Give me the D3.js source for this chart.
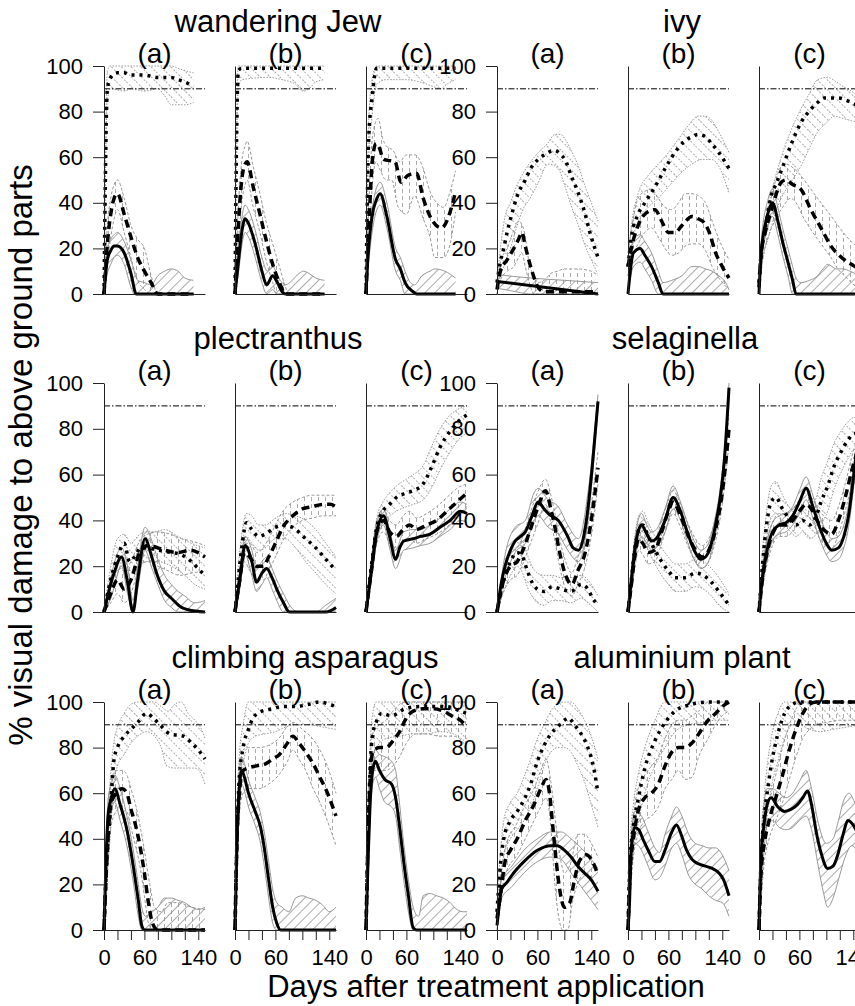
<!DOCTYPE html>
<html>
<head>
<meta charset="utf-8">
<script src="https://cdn.jsdelivr.net/npm/d3@7"></script>
<style>
  body { margin: 0; background: #fff; }
  text { font-family: "Liberation Sans", Arial, sans-serif; }
</style>
</head>
<body>
<div id="chart"></div>
<script>
// each series: mean line, lower and upper band as [day, % damage] pairs

// ---- wandering Jew ----
const wanderingA = {
  solid: {
    mean: [[0,0],[5,15],[10,19],[15,21],[20,21],[30,18],[40,9],[48,0],[133,0]],
    lo:   [[0,0],[5,9],[10,13],[15,16],[20,17],[30,13],[40,3],[45,0],[133,0]],
    hi:   [[0,0],[5,20],[10,24],[15,26],[20,27],[30,23],[40,15],[50,6],[60,5],[70,4],[80,8],[90,10],[100,11],[110,10],[120,7],[133,6]]
  },
  dashed: {
    mean: [[0,0],[5,22],[10,35],[15,42],[20,44],[30,35],[40,25],[50,16],[60,10],[70,5],[80,0],[133,0]],
    lo:   [[0,0],[5,14],[10,25],[15,33],[20,37],[30,27],[40,16],[50,6],[60,2],[70,0],[133,0]],
    hi:   [[0,0],[5,30],[10,42],[15,48],[20,50],[30,42],[40,30],[50,24],[60,20],[70,8],[80,0],[133,0]]
  },
  dotted: {
    mean: [[0,0],[5,90],[10,95],[20,97],[30,97],[40,96],[60,96],[80,95],[100,95],[110,94],[120,93],[133,91]],
    lo:   [[0,0],[5,85],[10,90],[30,89],[40,90],[60,89],[80,90],[90,87],[100,83],[120,83],[133,84]],
    hi:   [[0,0],[5,98],[10,100],[100,100],[110,99],[120,98],[133,97]]
  }
};
const wanderingB = {
  solid: {
    mean: [[0,0],[5,14],[10,27],[15,33],[20,31],[30,22],[40,10],[47,4],[56,8],[63,5],[70,1],[75,0],[133,0]],
    lo:   [[0,0],[5,9],[10,21],[15,27],[20,25],[30,16],[40,5],[47,0],[56,2],[62,0],[133,0]],
    hi:   [[0,0],[5,19],[10,33],[15,39],[20,37],[30,28],[40,16],[48,10],[56,12],[65,7],[75,4],[85,6],[95,9],[102,10],[110,9],[120,7],[133,6]]
  },
  dashed: {
    mean: [[0,0],[5,30],[10,50],[15,57],[18,58],[27,47],[37,35],[46,24],[56,13],[66,5],[75,0],[133,0]],
    lo:   [[0,0],[5,22],[10,40],[15,48],[18,50],[27,38],[37,27],[46,15],[56,5],[62,0],[133,0]],
    hi:   [[0,0],[5,38],[10,58],[15,65],[18,67],[27,56],[37,44],[46,32],[56,22],[66,12],[75,3],[80,0],[133,0]]
  },
  dotted: {
    mean: [[0,0],[2,60],[5,98],[10,99],[133,99]],
    lo:   [[0,0],[2,50],[5,90],[10,94],[50,95],[70,94],[90,92],[100,89],[110,90],[120,93],[133,94]],
    hi:   [[0,0],[2,70],[5,100],[133,100]]
  }
};
const wanderingC = {
  solid: {
    mean: [[0,0],[2,12],[9,34],[15,41],[21,44],[31,34],[44,15],[51,11],[58,5],[70,1],[75,0],[133,0]],
    lo:   [[0,0],[5,17],[10,29],[15,36],[21,39],[31,29],[44,10],[51,6],[58,0],[133,0]],
    hi:   [[0,0],[5,27],[10,39],[15,46],[21,49],[31,40],[44,20],[51,16],[58,10],[66,5],[72,4],[83,8],[95,10],[102,11],[117,10],[133,7]]
  },
  dashed: {
    mean: [[0,0],[5,35],[10,60],[15,66],[20,64],[26,59],[43,58],[52,49],[62,52],[75,53],[85,42],[97,33],[112,29],[127,38],[133,45]],
    lo:   [[0,0],[5,25],[10,50],[15,58],[20,55],[30,50],[38,50],[48,38],[60,35],[72,43],[85,33],[95,25],[102,16],[115,16],[125,22],[133,36]],
    hi:   [[0,0],[5,45],[10,70],[18,77],[25,68],[30,65],[40,63],[50,58],[60,61],[73,61],[85,55],[95,45],[105,40],[115,38],[125,45],[133,54]]
  },
  dotted: {
    mean: [[0,0],[4,68],[9,86],[16,99],[133,99]],
    lo:   [[0,0],[4,60],[9,78],[16,92],[30,94],[60,94],[80,93],[100,91],[110,90],[120,92],[133,94]],
    hi:   [[0,0],[4,76],[9,94],[16,100],[133,100]]
  }
};

// ---- ivy ----
const ivyA = {
  solid: {
    mean: [[0,5.5],[150,0]],
    lo:   [[0,2.5],[20,1.5],[50,0],[150,0]],
    hi:   [[0,8.5],[50,7],[100,6],[150,5]]
  },
  dashed: {
    mean: [[0,2],[5,10],[15,15],[25,20],[32,24],[37,27],[42,21],[51,11],[61,3],[70,1],[150,1]],
    lo:   [[0,0],[5,6],[15,10],[25,12],[32,16],[37,18],[42,12],[50,3],[55,0],[150,0]],
    hi:   [[0,4],[5,14],[15,20],[25,28],[32,32],[40,28],[47,15],[54,8],[60,5],[70,6],[80,9],[90,10],[100,11],[120,11],[140,10],[150,8]]
  },
  dotted: {
    mean: [[0,5],[5,14],[10,20],[15,27],[22,35],[30,43],[42,50],[50,55],[61,59],[70,61],[86,63],[95,61],[101,59],[110,52],[121,44],[130,36],[138,27],[150,16]],
    lo:   [[0,0],[5,8],[10,12],[20,20],[30,30],[40,38],[47,41],[60,48],[76,57],[91,55],[100,48],[111,38],[121,30],[131,21],[140,15],[149,9]],
    hi:   [[0,5],[5,20],[12,34],[20,40],[30,48],[37,52],[50,58],[61,62],[75,66],[86,70],[95,70],[101,68],[110,63],[121,56],[130,48],[140,40],[150,32]]
  }
};
const ivyB = {
  solid: {
    mean: [[0,0],[8,18],[18,20],[25,17],[35,12],[45,5],[52,0],[150,0]],
    lo:   [[0,0],[8,12],[18,14],[25,11],[35,6],[45,0],[150,0]],
    hi:   [[0,0],[8,24],[18,26],[25,23],[35,18],[45,10],[52,5],[65,6],[80,8],[95,12],[105,12],[115,11],[125,10],[135,8],[145,5],[150,2]]
  },
  dashed: {
    mean: [[0,12],[5,20],[15,30],[25,35],[40,37],[50,32],[60,27],[70,27],[80,30],[95,34],[104,33],[114,31],[122,26],[129,19],[140,12],[150,7]],
    lo:   [[0,8],[5,15],[15,22],[25,27],[35,29],[45,25],[55,20],[65,17],[75,18],[85,21],[95,22],[105,22],[115,19],[125,12],[135,7],[150,2]],
    hi:   [[0,18],[5,28],[15,42],[25,45],[35,46],[45,42],[55,38],[65,37],[75,40],[85,44],[95,44],[105,43],[115,40],[125,32],[135,24],[150,15]]
  },
  dotted: {
    mean: [[0,12],[5,25],[15,35],[25,40],[40,47],[55,55],[65,60],[84,67],[95,69],[104,70],[115,69],[124,66],[135,62],[146,57],[150,55]],
    lo:   [[0,8],[5,20],[15,32],[30,38],[45,42],[60,47],[75,52],[95,57],[110,59],[124,59],[135,56],[150,44]],
    hi:   [[0,15],[5,30],[15,44],[30,52],[45,57],[60,62],[75,68],[90,74],[104,78],[115,78],[125,76],[135,71],[150,62]]
  }
};
const ivyC = {
  solid: {
    mean: [[0,0],[3,17],[13,35],[20,40],[28,32],[35,23],[43,14],[50,6],[55,0],[150,0]],
    lo:   [[0,0],[3,12],[13,29],[20,34],[28,26],[35,17],[43,8],[50,0],[150,0]],
    hi:   [[0,0],[3,22],[13,41],[20,46],[28,38],[35,29],[43,20],[50,12],[55,7],[62,5],[75,6],[87,8],[95,11],[102,13],[115,11],[125,11],[135,10],[150,8]]
  },
  dashed: {
    mean: [[0,3],[3,17],[10,28],[20,38],[28,46],[33,49],[40,50],[50,48],[62,46],[77,37],[92,29],[107,21],[127,15],[137,13],[150,11]],
    lo:   [[0,0],[5,14],[15,26],[25,33],[35,38],[47,42],[55,40],[67,33],[80,27],[97,20],[107,16],[117,11],[127,8],[137,5],[150,2]],
    hi:   [[0,5],[5,22],[15,38],[25,50],[33,56],[40,57],[52,55],[62,52],[72,48],[82,44],[92,40],[105,35],[115,31],[125,27],[137,23],[150,20]]
  },
  dotted: {
    mean: [[0,5],[3,17],[10,30],[18,43],[25,48],[33,54],[47,65],[62,75],[77,81],[87,84],[97,86],[117,86],[137,84],[150,82]],
    lo:   [[0,2],[5,14],[15,26],[25,36],[33,42],[45,48],[62,56],[75,64],[87,71],[100,75],[112,78],[125,77],[137,76],[150,75]],
    hi:   [[0,8],[5,22],[15,40],[25,52],[33,60],[45,70],[62,81],[75,88],[87,94],[102,95],[115,93],[125,91],[137,89],[150,86]]
  }
};

// ---- plectranthus ----
const plectA = {
  solid: {
    mean: [[0,0],[8,10],[15,17],[26,24],[35,13],[43,0],[50,14],[61,32],[70,25],[78,17],[90,9],[100,6],[115,2],[125,1],[150,0]],
    lo:   [[0,0],[10,6],[26,20],[35,8],[43,0],[50,10],[61,27],[70,20],[80,12],[90,5],[100,2],[110,0],[150,0]],
    hi:   [[0,0],[10,15],[26,28],[35,20],[43,5],[50,20],[61,37],[70,32],[80,23],[90,16],[100,12],[110,9],[120,7],[135,4],[150,5]]
  },
  dashed: {
    mean: [[0,0],[10,8],[20,14],[30,10],[40,14],[53,26],[65,29],[80,28],[90,27],[110,26],[128,27],[150,24]],
    lo:   [[0,0],[10,4],[20,8],[30,4],[40,8],[53,20],[65,22],[80,20],[95,18],[113,16],[130,17],[150,18]],
    hi:   [[0,0],[10,12],[20,20],[30,18],[40,22],[53,31],[65,34],[80,35],[98,34],[115,32],[130,31],[150,29]]
  },
  dotted: {
    mean: [[0,0],[9,13],[20,24],[30,30],[38,22],[45,24],[55,28],[63,28],[80,27],[100,26],[115,25],[130,22],[143,18],[150,16]],
    lo:   [[0,0],[10,6],[20,16],[30,24],[40,14],[50,18],[60,22],[80,22],[100,20],[120,16],[135,12],[150,10]],
    hi:   [[0,0],[10,20],[20,32],[30,34],[40,30],[50,33],[60,35],[75,35],[90,36],[110,33],[130,30],[150,28]]
  }
};
const plectB = {
  solid: {
    mean: [[0,0],[7,14],[15,29],[25,22],[32,13],[40,17],[47,19],[55,15],[62,10],[72,4],[81,0],[135,0],[150,2]],
    lo:   [[0,0],[7,10],[15,25],[25,16],[32,9],[40,12],[47,15],[55,10],[62,5],[72,0],[150,0]],
    hi:   [[0,0],[7,18],[15,33],[25,27],[32,19],[40,22],[47,24],[55,19],[62,14],[72,8],[81,3],[95,0],[120,0],[135,3],[150,6]]
  },
  dashed: {
    mean: [[0,0],[7,14],[14,26],[22,24],[32,20],[42,20],[50,24],[60,30],[71,37],[86,42],[100,45],[115,46],[130,47],[141,47],[150,46]],
    lo:   [[0,0],[7,10],[14,22],[22,18],[32,14],[42,14],[50,18],[60,24],[71,31],[86,37],[100,40],[115,41],[130,42],[150,42]],
    hi:   [[0,0],[7,18],[14,30],[22,30],[32,26],[42,28],[50,32],[60,38],[71,44],[86,48],[100,50],[115,51],[130,51],[150,51]]
  },
  dotted: {
    mean: [[0,0],[5,15],[10,28],[17,39],[25,36],[35,33],[45,34],[60,37],[75,38],[90,36],[105,32],[120,28],[135,23],[150,18]],
    lo:   [[0,0],[5,10],[10,22],[17,33],[25,30],[35,27],[45,28],[60,32],[75,32],[90,28],[105,22],[120,17],[135,12],[150,8]],
    hi:   [[0,0],[5,20],[10,34],[17,43],[25,42],[35,38],[45,38],[60,41],[75,43],[90,42],[105,40],[120,36],[135,30],[150,24]]
  }
};
const plectC = {
  solid: {
    mean: [[0,0],[8,18],[16,35],[26,42],[35,33],[44,23],[50,28],[56,31],[70,32],[81,33],[95,34],[110,37],[125,40],[140,44],[150,43]],
    lo:   [[0,0],[8,14],[16,31],[26,38],[35,28],[44,19],[56,27],[70,28],[81,29],[95,30],[110,33],[125,36],[140,40],[150,39]],
    hi:   [[0,0],[8,22],[16,39],[26,45],[35,36],[44,27],[56,35],[70,36],[81,36],[95,38],[110,41],[125,45],[140,48],[150,47]]
  },
  dashed: {
    mean: [[0,0],[8,18],[16,35],[26,40],[35,35],[45,33],[55,36],[65,38],[75,36],[90,38],[105,40],[120,44],[135,48],[150,52]],
    lo:   [[0,0],[8,14],[16,30],[26,35],[35,30],[45,28],[55,30],[65,32],[75,30],[90,32],[105,34],[120,37],[135,42],[150,46]],
    hi:   [[0,0],[8,22],[16,40],[26,45],[35,40],[45,38],[55,42],[65,44],[75,41],[90,43],[105,46],[120,50],[135,54],[150,56]]
  },
  dotted: {
    mean: [[0,0],[8,20],[16,37],[25,44],[35,47],[45,50],[60,52],[70,53],[85,56],[97,63],[110,72],[125,79],[140,84],[150,86]],
    lo:   [[0,0],[8,16],[16,33],[25,40],[35,42],[45,44],[60,46],[70,47],[85,49],[97,54],[110,62],[125,70],[140,76],[150,78]],
    hi:   [[0,0],[8,24],[16,41],[25,48],[35,52],[45,55],[60,58],[70,60],[85,64],[97,72],[110,80],[125,86],[140,89],[150,90]]
  }
};

// ---- selaginella ----
const selagA = {
  solid: {
    mean: [[0,0],[6,12],[12,20],[20,27],[27,31],[35,33],[42,35],[52,42],[61,48],[70,45],[76,43],[91,40],[105,33],[113,28],[121,27],[128,32],[135,45],[141,62],[150,92]],
    lo:   [[0,0],[12,15],[27,26],[42,30],[61,42],[76,37],[91,34],[105,27],[121,22],[135,40],[150,89]],
    hi:   [[0,0],[12,25],[27,37],[42,40],[55,52],[61,54],[76,49],[91,46],[105,38],[121,32],[135,52],[150,95]]
  },
  dashed: {
    mean: [[0,0],[10,14],[20,20],[30,22],[37,26],[46,33],[60,45],[72,53],[80,45],[86,37],[93,26],[102,16],[111,12],[120,18],[131,26],[140,40],[150,63]],
    lo:   [[0,0],[10,9],[20,14],[30,16],[37,20],[46,27],[60,38],[72,47],[80,39],[86,31],[93,20],[102,10],[111,7],[120,12],[131,20],[140,33],[150,56]],
    hi:   [[0,0],[10,19],[20,26],[30,28],[37,32],[46,40],[60,52],[72,58],[80,51],[86,43],[93,32],[102,22],[111,17],[120,24],[131,32],[140,47],[150,70]]
  },
  dotted: {
    mean: [[0,0],[10,14],[20,22],[30,26],[38,24],[45,18],[52,13],[60,10],[70,9],[82,11],[95,10],[110,9],[125,12],[135,10],[142,6],[150,3]],
    lo:   [[0,0],[10,9],[20,16],[30,20],[38,17],[45,11],[52,7],[60,4],[70,3],[82,5],[95,5],[110,4],[125,6],[135,4],[150,0]],
    hi:   [[0,0],[10,19],[20,28],[30,32],[38,31],[45,25],[52,20],[60,17],[70,16],[82,16],[95,15],[110,15],[125,16],[135,14],[150,7]]
  }
};
const selagB = {
  solid: {
    mean: [[0,0],[5,14],[10,27],[16,36],[20,38],[28,34],[35,31],[42,32],[55,40],[67,50],[78,44],[88,35],[100,26],[108,23],[115,24],[122,28],[130,38],[137,50],[143,66],[150,98]],
    lo:   [[0,0],[5,10],[10,23],[16,31],[20,33],[28,30],[35,27],[42,28],[55,35],[67,45],[78,40],[88,31],[100,22],[108,19],[115,20],[122,24],[130,34],[137,46],[143,62],[150,94]],
    hi:   [[0,0],[5,18],[10,31],[16,41],[20,43],[28,38],[35,35],[42,36],[55,45],[67,55],[78,48],[88,39],[100,30],[108,27],[115,28],[122,32],[130,42],[137,54],[143,70],[150,100]]
  },
  dashed: {
    mean: [[0,0],[5,12],[10,24],[16,32],[22,30],[30,26],[40,27],[50,35],[60,44],[67,48],[78,42],[90,33],[100,27],[110,24],[120,27],[130,36],[140,52],[150,80]],
    lo:   [[0,0],[5,8],[10,19],[16,27],[22,25],[30,21],[40,22],[50,30],[60,39],[67,43],[78,37],[90,28],[100,22],[110,19],[120,22],[130,31],[140,47],[150,74]],
    hi:   [[0,0],[5,16],[10,29],[16,37],[22,35],[30,31],[40,32],[50,40],[60,49],[67,53],[78,47],[90,38],[100,32],[110,29],[120,32],[130,41],[140,57],[150,86]]
  },
  dotted: {
    mean: [[0,0],[5,14],[10,27],[16,36],[22,38],[30,33],[40,27],[50,22],[60,18],[70,15],[85,15],[100,17],[112,16],[124,13],[135,9],[150,3]],
    lo:   [[0,0],[5,9],[10,21],[16,30],[22,32],[30,27],[40,21],[50,16],[60,12],[70,9],[85,9],[100,11],[112,10],[124,7],[135,3],[150,0]],
    hi:   [[0,0],[5,19],[10,33],[16,42],[22,44],[30,39],[40,33],[50,28],[60,24],[70,21],[85,21],[100,23],[112,22],[124,19],[135,15],[150,8]]
  }
};
const selagC = {
  solid: {
    mean: [[0,0],[5,15],[12,27],[20,35],[30,38],[40,39],[50,42],[60,48],[70,54],[80,46],[90,37],[100,30],[108,27],[118,28],[126,33],[133,42],[140,58],[150,82]],
    lo:   [[0,0],[5,11],[12,23],[20,31],[30,34],[40,35],[50,38],[60,43],[70,49],[80,41],[90,32],[100,25],[108,22],[118,23],[126,28],[133,37],[140,53],[150,78]],
    hi:   [[0,0],[5,19],[12,31],[20,39],[30,42],[40,43],[50,46],[60,53],[70,59],[80,51],[90,42],[100,35],[108,32],[118,33],[126,38],[133,47],[140,63],[150,86]]
  },
  dashed: {
    mean: [[0,0],[5,14],[12,26],[20,34],[30,38],[40,38],[50,40],[60,44],[70,47],[80,44],[90,38],[100,35],[108,34],[118,40],[128,50],[138,62],[150,74]],
    lo:   [[0,0],[5,10],[12,21],[20,29],[30,33],[40,33],[50,35],[60,39],[70,42],[80,39],[90,32],[100,29],[108,28],[118,34],[128,44],[138,56],[150,68]],
    hi:   [[0,0],[5,18],[12,31],[20,39],[30,43],[40,43],[50,45],[60,49],[70,52],[80,49],[90,44],[100,41],[108,40],[118,46],[128,56],[138,68],[150,80]]
  },
  dotted: {
    mean: [[0,0],[5,20],[10,35],[18,48],[25,50],[35,45],[47,40],[55,38],[65,40],[75,38],[85,42],[92,48],[102,55],[112,64],[122,70],[132,75],[142,78],[150,78]],
    lo:   [[0,0],[5,15],[10,29],[18,41],[25,43],[35,39],[47,35],[55,33],[65,35],[75,32],[85,34],[92,38],[102,44],[112,54],[122,61],[132,67],[142,71],[150,71]],
    hi:   [[0,0],[5,25],[10,41],[18,55],[25,57],[35,51],[47,45],[55,43],[65,45],[75,44],[85,50],[92,58],[102,66],[112,74],[122,79],[132,83],[142,85],[150,85]]
  }
};

// ---- climbing asparagus ----
const asparA = {
  solid: {
    mean: [[0,0],[3,30],[6,50],[10,57],[16,62],[24,55],[34,44],[44,27],[51,13],[56,2],[60,0],[150,0]],
    lo:   [[0,0],[3,24],[6,44],[10,51],[16,56],[24,48],[34,37],[44,20],[51,6],[56,0],[150,0]],
    hi:   [[0,0],[3,36],[6,57],[10,63],[16,68],[24,62],[34,50],[44,34],[51,20],[56,10],[62,6],[70,8],[80,10],[90,14],[100,14],[110,13],[120,12],[130,10],[140,9],[150,10]]
  },
  dashed: {
    mean: [[0,0],[5,35],[10,55],[18,60],[27,62],[34,60],[40,53],[46,47],[54,36],[60,25],[66,12],[72,3],[80,0],[150,0]],
    lo:   [[0,0],[5,25],[10,45],[18,52],[27,54],[34,52],[40,45],[46,38],[54,27],[60,15],[66,3],[72,0],[150,0]],
    hi:   [[0,0],[5,45],[10,65],[18,70],[27,70],[34,68],[40,62],[46,56],[54,45],[60,35],[68,20],[75,10],[85,8],[95,12],[110,12],[130,10],[150,9]]
  },
  dotted: {
    mean: [[0,0],[4,30],[9,50],[15,75],[20,80],[30,85],[40,88],[50,91],[63,95],[73,93],[83,90],[98,86],[118,85],[130,82],[140,79],[150,75]],
    lo:   [[0,0],[4,20],[9,40],[15,65],[20,72],[30,77],[40,82],[50,85],[63,87],[75,85],[85,80],[93,72],[105,71],[120,71],[135,71],[145,68],[150,64]],
    hi:   [[0,0],[4,40],[9,65],[15,83],[20,89],[30,95],[40,99],[50,100],[63,100],[75,100],[85,98],[95,96],[105,99],[115,100],[125,95],[135,92],[145,88],[150,84]]
  }
};
const asparB = {
  solid: {
    mean: [[0,0],[3,40],[6,60],[10,70],[14,67],[20,60],[30,52],[38,45],[44,35],[50,22],[56,10],[62,3],[68,0],[150,0]],
    lo:   [[0,0],[3,33],[6,53],[10,64],[14,61],[20,54],[30,46],[38,38],[44,27],[50,14],[56,3],[62,0],[150,0]],
    hi:   [[0,0],[3,47],[6,67],[10,76],[14,73],[20,66],[30,58],[38,51],[44,42],[50,30],[56,18],[62,12],[70,10],[80,8],[90,14],[100,15],[110,14],[120,13],[130,11],[140,8],[150,10]]
  },
  dashed: {
    mean: [[0,0],[3,40],[7,62],[12,70],[19,71],[32,72],[46,73],[56,75],[66,77],[78,82],[86,85],[95,82],[105,78],[116,73],[126,67],[136,61],[150,50]],
    lo:   [[0,0],[3,30],[7,52],[12,60],[20,62],[35,62],[50,64],[65,68],[78,74],[86,79],[95,75],[105,70],[116,62],[126,56],[137,48],[150,37]],
    hi:   [[0,0],[3,50],[7,72],[12,79],[20,80],[35,80],[50,81],[65,84],[80,90],[88,91],[100,88],[115,84],[126,79],[137,72],[150,60]]
  },
  dotted: {
    mean: [[0,0],[3,40],[6,65],[12,80],[20,88],[27,93],[40,96],[55,97],[71,98],[90,98],[110,99],[125,100],[140,99],[150,98]],
    lo:   [[0,0],[3,30],[6,55],[12,72],[20,82],[30,85],[45,86],[60,87],[75,89],[90,90],[110,90],[130,89],[150,88]],
    hi:   [[0,0],[3,50],[6,75],[12,90],[20,100],[150,100]]
  }
};
const asparC = {
  solid: {
    mean: [[0,0],[3,30],[6,55],[10,70],[14,74],[20,70],[28,66],[38,64],[44,58],[50,45],[56,30],[63,15],[70,1],[75,0],[150,0]],
    lo:   [[0,0],[3,24],[6,48],[10,64],[14,67],[20,62],[28,56],[38,54],[44,50],[50,36],[56,22],[63,8],[70,0],[150,0]],
    hi:   [[0,0],[3,36],[6,62],[10,76],[14,79],[20,77],[28,76],[38,74],[44,70],[50,55],[56,38],[63,22],[70,10],[78,6],[85,15],[95,16],[105,15],[115,14],[125,12],[135,9],[145,8],[150,8]]
  },
  dashed: {
    mean: [[0,0],[3,40],[6,65],[10,78],[20,80],[30,80],[40,83],[50,87],[60,93],[70,96],[85,97],[100,97],[115,96],[127,94],[140,92],[150,89]],
    lo:   [[0,0],[3,32],[6,57],[10,70],[20,70],[30,70],[40,72],[50,76],[60,82],[75,86],[90,86],[110,85],[130,85],[145,82],[150,76]],
    hi:   [[0,0],[3,48],[6,73],[10,86],[20,90],[30,92],[40,96],[50,99],[60,100],[150,100]]
  },
  dotted: {
    mean: [[0,0],[3,40],[6,70],[10,86],[15,91],[23,95],[38,94],[58,97],[80,98],[100,98],[120,98],[140,96],[150,95]],
    lo:   [[0,0],[3,30],[6,58],[10,75],[20,82],[30,84],[50,85],[70,86],[90,86],[110,87],[130,86],[150,82]],
    hi:   [[0,0],[3,50],[6,80],[10,95],[15,100],[150,100]]
  }
};

// ---- aluminium plant ----
const alumA = {
  solid: {
    mean: [[0,2],[3,10],[7,18],[15,21],[22,24],[40,30],[60,35],[80,37],[90,37],[100,35],[110,32],[120,28],[130,25],[140,22],[150,17]],
    lo:   [[0,0],[7,14],[22,19],[40,25],[60,30],[80,32],[95,31],[110,25],[125,19],[140,13],[150,9]],
    hi:   [[0,6],[7,22],[22,28],[40,35],[60,40],[80,43],[95,43],[110,40],[125,36],[140,31],[150,27]]
  },
  dashed: {
    mean: [[0,5],[5,15],[12,30],[20,35],[30,40],[42,48],[55,55],[65,62],[73,66],[78,60],[83,45],[88,30],[93,18],[100,10],[108,12],[115,22],[122,30],[132,33],[142,30],[150,24]],
    lo:   [[0,2],[12,24],[30,33],[42,40],[55,48],[65,54],[73,58],[80,45],[86,20],[92,5],[98,0],[105,0],[112,12],[122,22],[132,25],[142,22],[150,16]],
    hi:   [[0,8],[12,36],[30,47],[42,55],[55,62],[65,70],[73,75],[80,65],[88,45],[95,30],[100,25],[110,30],[120,42],[130,42],[140,38],[150,32]]
  },
  dotted: {
    mean: [[0,8],[4,25],[10,40],[20,48],[30,52],[40,57],[50,64],[60,74],[70,81],[80,86],[90,89],[100,92],[106,93],[115,90],[125,86],[135,80],[143,72],[150,60]],
    lo:   [[0,4],[10,32],[20,40],[30,44],[40,48],[50,54],[60,62],[70,72],[80,78],[90,80],[100,80],[110,78],[120,72],[130,65],[140,55],[150,45]],
    hi:   [[0,12],[10,48],[20,56],[30,60],[40,67],[50,75],[60,84],[70,90],[80,96],[90,99],[100,100],[110,100],[120,97],[130,92],[140,85],[150,75]]
  }
};
const alumB = {
  solid: {
    mean: [[0,0],[2,10],[5,36],[10,45],[16,44],[22,40],[30,35],[40,30],[47,30],[55,35],[65,43],[72,46],[80,41],[87,35],[95,31],[105,29],[115,28],[125,27],[135,25],[142,22],[150,15]],
    lo:   [[0,0],[5,30],[10,38],[20,35],[30,28],[40,22],[47,23],[55,28],[65,36],[72,38],[80,33],[90,24],[100,20],[110,18],[120,15],[130,13],[140,12],[150,6]],
    hi:   [[0,0],[5,42],[10,52],[20,50],[30,43],[40,36],[47,34],[55,42],[65,50],[72,54],[80,50],[90,42],[100,38],[110,37],[120,36],[130,36],[140,33],[150,26]]
  },
  dashed: {
    mean: [[0,0],[3,25],[8,40],[15,52],[25,58],[35,60],[45,64],[55,72],[65,78],[75,80],[85,80],[95,82],[105,86],[119,92],[130,95],[140,98],[150,100]],
    lo:   [[0,0],[8,32],[15,42],[25,48],[35,50],[45,54],[55,62],[65,66],[75,70],[85,66],[95,67],[105,76],[119,84],[130,90],[140,94],[150,96]],
    hi:   [[0,0],[8,48],[15,62],[25,68],[35,72],[45,76],[55,84],[65,90],[75,92],[85,92],[95,94],[105,96],[120,100],[150,100]]
  },
  dotted: {
    mean: [[0,0],[3,30],[8,45],[15,57],[25,71],[40,83],[55,91],[70,96],[95,99],[120,100],[150,100]],
    lo:   [[0,0],[3,22],[8,35],[15,47],[25,60],[40,72],[55,80],[70,87],[90,90],[110,91],[130,92],[150,92]],
    hi:   [[0,0],[3,38],[8,55],[15,68],[25,80],[40,92],[55,100],[150,100]]
  }
};
const alumC = {
  solid: {
    mean: [[0,0],[3,32],[7,45],[12,55],[18,58],[28,54],[38,52],[48,53],[57,55],[65,58],[72,61],[78,55],[85,43],[92,34],[102,27],[110,28],[117,33],[125,42],[132,48],[140,46],[150,40]],
    lo:   [[0,0],[5,25],[12,46],[20,48],[30,45],[40,44],[50,45],[60,48],[70,50],[78,44],[88,28],[96,16],[102,10],[110,14],[118,22],[128,32],[138,37],[150,32]],
    hi:   [[0,0],[5,45],[12,62],[20,62],[30,60],[40,58],[50,60],[60,65],[70,70],[78,62],[88,47],[100,38],[110,40],[118,48],[126,57],[134,60],[142,56],[150,50]]
  },
  dashed: {
    mean: [[0,0],[3,25],[8,38],[15,48],[25,58],[35,68],[45,79],[55,88],[65,95],[75,99],[85,100],[150,100]],
    lo:   [[0,0],[8,30],[15,40],[25,48],[35,56],[45,66],[55,76],[65,84],[75,88],[85,90],[100,91],[120,92],[150,92]],
    hi:   [[0,0],[8,46],[15,56],[25,68],[35,80],[45,90],[55,97],[65,100],[150,100]]
  },
  dotted: {
    mean: [[0,0],[3,30],[8,50],[13,62],[18,72],[28,86],[38,95],[50,99],[60,100],[150,100]],
    lo:   [[0,0],[3,22],[8,40],[13,52],[18,62],[28,74],[38,84],[50,90],[60,90],[75,88],[90,87],[110,88],[130,89],[150,90]],
    hi:   [[0,0],[3,38],[8,60],[13,74],[18,84],[28,95],[38,100],[150,100]]
  }
};

const plantNames = ["wandering Jew", "ivy", "plectranthus", "selaginella", "climbing asparagus", "aluminium plant"];
const plantPanels = [
  [wanderingA, wanderingB, wanderingC],
  [ivyA, ivyB, ivyC],
  [plectA, plectB, plectC],
  [selagA, selagB, selagC],
  [asparA, asparB, asparC],
  [alumA, alumB, alumC]
];
const panelLabels = ["(a)", "(b)", "(c)"];
const yTicks = [0, 20, 40, 60, 80, 100];
const xTicks = [0, 20, 40, 60, 80, 100, 120, 140];
const xTickLabels = [0, 60, 140];
const threshold = 90;

// layout
const width = 855, height = 1006;
const panelW = 101, panelStep = 131;
const groupLeft = [104, 497];
const rows = [{y0: 294, y100: 66}, {y0: 612, y100: 383}, {y0: 930, y100: 702}];
const titleX = [278, 682, 278, 685, 305, 682];

const svg = d3.select("#chart").append("svg")
  .attr("width", width)
  .attr("height", height);

// hatch patterns for the confidence bands
const defs = svg.append("defs");
function hatch(id, angle, dash) {
  const p = defs.append("pattern")
    .attr("id", id)
    .attr("patternUnits", "userSpaceOnUse")
    .attr("width", 7).attr("height", 7)
    .attr("patternTransform", `rotate(${angle})`);
  p.append("line")
    .attr("x1", 3.5).attr("y1", 0).attr("x2", 3.5).attr("y2", 7)
    .attr("stroke", "#888")
    .attr("stroke-width", 0.7)
    .attr("stroke-dasharray", dash);
}
hatch("hatch-solid", 45, null);
hatch("hatch-dashed", 0, "4,3");
hatch("hatch-dotted", -45, "2,2");

const style = {
  solid:  {band: "url(#hatch-solid)",  edge: null,      line: null,  w: 3},
  dashed: {band: "url(#hatch-dashed)", edge: "3,2",     line: "8,5", w: 3.5},
  dotted: {band: "url(#hatch-dotted)", edge: "1.5,1.5", line: "3,5", w: 3.5}
};

plantPanels.forEach((panels, g) => {
  const row = rows[Math.floor(g / 2)];
  const left0 = groupLeft[g % 2];
  const isBottom = Math.floor(g / 2) === 2;

  const y = d3.scaleLinear().domain([0, 100]).range([row.y0, row.y100]);

  svg.append("text")
    .attr("x", titleX[g])
    .attr("y", row.y100 - 34)
    .attr("text-anchor", "middle")
    .attr("font-size", 31)
    .text(plantNames[g]);

  panels.forEach((pd, p) => {
    const left = left0 + p * panelStep;
    const x = d3.scaleLinear().domain([0, 150]).range([left, left + panelW]);
    const line = d3.line()
      .x(d => x(d[0]))
      .y(d => y(d[1]))
      .curve(d3.curveMonotoneX);

    const gp = svg.append("g");

    // bands
    ["dotted", "dashed", "solid"].forEach(k => {
      const s = pd[k];
      const back = line(s.lo.slice().reverse());
      gp.append("path")
        .attr("d", line(s.hi) + "L" + back.slice(1) + "Z")
        .attr("fill", style[k].band)
        .attr("stroke", "none");
      [s.lo, s.hi].forEach(b => {
        gp.append("path")
          .attr("d", line(b))
          .attr("fill", "none")
          .attr("stroke", "#8c8c8c")
          .attr("stroke-width", 0.9)
          .attr("stroke-dasharray", style[k].edge);
      });
    });

    // 90 % line
    gp.append("line")
      .attr("x1", x(0)).attr("x2", x(150))
      .attr("y1", y(threshold)).attr("y2", y(threshold))
      .attr("stroke", "#000")
      .attr("stroke-width", 1)
      .attr("stroke-dasharray", "6,2,1.5,2");

    // fitted means
    ["dotted", "dashed", "solid"].forEach(k => {
      gp.append("path")
        .attr("d", line(pd[k].mean))
        .attr("fill", "none")
        .attr("stroke", "#000")
        .attr("stroke-width", style[k].w)
        .attr("stroke-dasharray", style[k].line);
    });

    // axes
    const yAxis = p === 0
      ? d3.axisLeft(y).tickValues(yTicks).tickSize(11).tickSizeOuter(0).tickPadding(10)
      : d3.axisLeft(y).tickValues([]).tickSizeOuter(0);
    svg.append("g")
      .attr("transform", `translate(${left},0)`)
      .call(yAxis)
      .call(a => a.selectAll("text").attr("font-size", 22).attr("font-family", null))
      .call(a => a.selectAll("path,line").attr("stroke", "#222"));

    const xAxis = isBottom
      ? d3.axisBottom(x).tickValues(xTicks).tickSize(10).tickSizeOuter(0).tickPadding(9)
          .tickFormat(d => xTickLabels.includes(d) ? d : "")
      : d3.axisBottom(x).tickValues([]).tickSizeOuter(0);
    svg.append("g")
      .attr("transform", `translate(0,${row.y0})`)
      .call(xAxis)
      .call(a => a.selectAll("text").attr("font-size", 22).attr("font-family", null))
      .call(a => a.selectAll("path,line").attr("stroke", "#222"));

    svg.append("text")
      .attr("x", left + panelW / 2)
      .attr("y", row.y100 - 3)
      .attr("text-anchor", "middle")
      .attr("font-size", 28)
      .text(panelLabels[p]);
  });
});

// axis titles
svg.append("text")
  .attr("transform", "translate(32,455) rotate(-90)")
  .attr("text-anchor", "middle")
  .attr("font-size", 33)
  .text("% visual damage to above ground parts");

svg.append("text")
  .attr("x", 486)
  .attr("y", 997)
  .attr("text-anchor", "middle")
  .attr("font-size", 31)
  .text("Days after treatment application");
</script>
</body>
</html>
